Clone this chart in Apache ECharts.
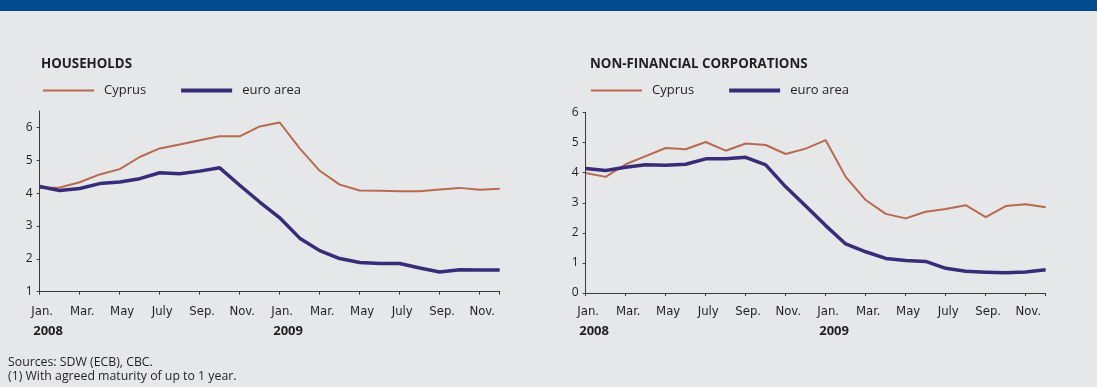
<!DOCTYPE html>
<html>
<head>
<meta charset="utf-8">
<script src="https://cdn.jsdelivr.net/npm/echarts@6/dist/echarts.min.js"></script>
<style>
  html, body { margin: 0; padding: 0; background: #e6e7e9; }
  #chart { width: 1097px; height: 387px; }
</style>
</head>
<body>
<div id="chart"></div>
<script>
// Monthly periods, Jan. 2008 to Dec. 2009
const months = ['Jan.', 'Feb.', 'Mar.', 'Apr.', 'May', 'June', 'July', 'Aug.', 'Sep.', 'Oct.', 'Nov.', 'Dec.',
                'Jan.', 'Feb.', 'Mar.', 'Apr.', 'May', 'June', 'July', 'Aug.', 'Sep.', 'Oct.', 'Nov.', 'Dec.'];
const years = { 0: '2008', 12: '2009' };

// Households (%)
const hhCyprus = [4.16, 4.17, 4.33, 4.57, 4.73, 5.10, 5.36, 5.48, 5.61, 5.73, 5.73, 6.03,
                  6.15, 5.36, 4.68, 4.26, 4.08, 4.07, 4.06, 4.06, 4.11, 4.16, 4.10, 4.13];
const hhEuro   = [4.20, 4.08, 4.14, 4.29, 4.34, 4.44, 4.62, 4.59, 4.67, 4.77, 4.24, 3.73,
                  3.25, 2.63, 2.25, 2.01, 1.89, 1.86, 1.86, 1.72, 1.60, 1.67, 1.66, 1.66];

// Non-financial corporations (%)
const nfcCyprus = [3.99, 3.86, 4.28, 4.55, 4.82, 4.78, 5.02, 4.73, 4.97, 4.92, 4.62, 4.80,
                   5.08, 3.86, 3.09, 2.63, 2.48, 2.70, 2.79, 2.92, 2.52, 2.89, 2.95, 2.85];
const nfcEuro   = [4.14, 4.07, 4.18, 4.26, 4.25, 4.28, 4.46, 4.46, 4.51, 4.26, 3.53, 2.89,
                   2.24, 1.63, 1.37, 1.15, 1.08, 1.05, 0.82, 0.72, 0.69, 0.67, 0.70, 0.77];

const hhTicks = [1, 2, 3, 4, 5, 6];
const nfcTicks = [0, 1, 2, 3, 4, 5, 6];

const FONT = "'Open Sans', 'Noto Sans', sans-serif";
const NARROW = "'Liberation Sans Narrow', 'DejaVu Sans Condensed', 'Roboto', sans-serif";
const TEXT = '#231f20';
const AXIS = '#3a3a3a';
const C_CY = '#b86a50';
const C_EU = '#372c78';

const pairs = arr => arr.map((v, i) => [i, v]);

function monthAxis(gridIndex, margin) {
  return {
    type: 'value', gridIndex, min: 0, max: 23, interval: 2,
    axisLine: { show: true, lineStyle: { color: AXIS, width: 1 } },
    axisTick: { show: true, length: 3, lineStyle: { color: AXIS } },
    splitLine: { show: false },
    axisLabel: {
      margin, color: TEXT, fontFamily: NARROW, fontSize: 13,
      formatter: v => (v % 2 === 0 && v < 23) ? '{m|' + months[v] + '}' : '',
      rich: { m: { fontFamily: NARROW, fontSize: 13, color: TEXT, padding: [0, 0, 0, 5] } }
    }
  };
}

function yearAxis(gridIndex, margin) {
  return {
    type: 'value', gridIndex, min: 0, max: 23, interval: 12, position: 'bottom',
    axisLine: { show: false }, axisTick: { show: false }, splitLine: { show: false },
    axisLabel: {
      margin, color: TEXT,
      formatter: v => years[v] ? '{y|' + years[v] + '}' : '',
      rich: { y: { fontFamily: FONT, fontWeight: 'bold', fontSize: 13, color: TEXT, width: 13, align: 'left' } }
    }
  };
}

function valueAxis(gridIndex, min, max, ticks) {
  return {
    type: 'value', gridIndex, min, max, interval: 1,
    axisLine: { show: true, lineStyle: { color: AXIS, width: 1 } },
    axisTick: { show: true, length: 3, lineStyle: { color: AXIS }, customValues: ticks },
    splitLine: { show: false },
    axisLabel: {
      margin: 7, color: TEXT, fontFamily: FONT, fontSize: 12, customValues: ticks,
      formatter: v => Number.isInteger(v) ? String(v) : ''
    }
  };
}

function legend(left, top) {
  return {
    left, top, itemWidth: 51, itemHeight: 12, itemGap: 33, padding: 0,
    selectedMode: false,
    itemStyle: { opacity: 0 },
    textStyle: { fontFamily: FONT, fontSize: 13, color: TEXT, padding: [0, 0, 0, 5] },
    data: [
      { name: 'Cyprus', lineStyle: { width: 2 } },
      { name: 'euro area', lineStyle: { width: 4 } }
    ]
  };
}

function line(name, data, xi, yi, color, width) {
  return {
    name, type: 'line', xAxisIndex: xi, yAxisIndex: yi, data: pairs(data),
    symbol: 'none', smooth: false, silent: true, animation: false,
    lineStyle: { color, width, join: 'round' }, itemStyle: { color }
  };
}

const chart = echarts.init(document.getElementById('chart'), null, { renderer: 'canvas' });
chart.setOption({
  backgroundColor: '#e6e7e9',
  animation: false,
  textStyle: { fontFamily: FONT },
  graphic: [{ type: 'rect', left: 0, top: 0, shape: { width: 1097, height: 11 }, style: { fill: '#004a8e' }, silent: true }],
  title: [
    { text: 'HOUSEHOLDS', left: 41, top: 57.5, padding: 0,
      textStyle: { fontFamily: FONT, fontWeight: 'bold', fontSize: 13.3, color: TEXT } },
    { text: 'NON-FINANCIAL CORPORATIONS', left: 590, top: 57.5, padding: 0,
      textStyle: { fontFamily: FONT, fontWeight: 'bold', fontSize: 13.3, color: TEXT } },
    { text: 'Sources: SDW (ECB), CBC.\n(1) With agreed maturity of up to 1 year.', left: 8, top: 355, padding: 0,
      textStyle: { fontFamily: FONT, fontWeight: 'normal', fontSize: 12.3, lineHeight: 14.4, color: TEXT } }
  ],
  legend: [legend(42, 84), legend(590, 84)],
  grid: [
    { left: 39.7, right: 597.3, top: 111, bottom: 95.3 },
    { left: 585.7, right: 51.3, top: 112.5, bottom: 94 }
  ],
  xAxis: [monthAxis(0, 13), yearAxis(0, 33), monthAxis(1, 12), yearAxis(1, 32)],
  yAxis: [valueAxis(0, 1, 6.5, hhTicks), valueAxis(1, 0, 6, nfcTicks)],
  series: [
    line('Cyprus', hhCyprus, 0, 0, C_CY, 2),
    line('euro area', hhEuro, 0, 0, C_EU, 3.5),
    line('Cyprus', nfcCyprus, 2, 1, C_CY, 2),
    line('euro area', nfcEuro, 2, 1, C_EU, 3.5)
  ]
});
</script>
</body>
</html>
